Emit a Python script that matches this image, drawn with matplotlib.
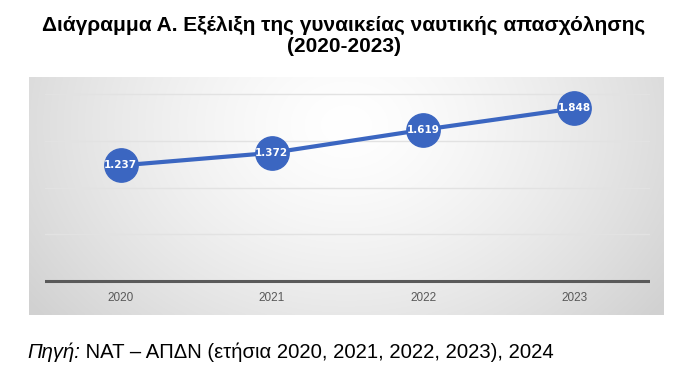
import numpy as np
import matplotlib
matplotlib.use("Agg")
import matplotlib.pyplot as plt

years = ["2020", "2021", "2022", "2023"]
values = [1237, 1372, 1619, 1848]
value_labels = ["1.237", "1.372", "1.619", "1.848"]
title_line1 = "Διάγραμμα Α. Εξέλιξη της γυναικείας ναυτικής απασχόλησης"
title_line2 = "(2020-2023)"
source_italic = "Πηγή:"
source_rest = " ΝΑΤ – ΑΠΔΝ (ετήσια 2020, 2021, 2022, 2023), 2024"

W, H = 688, 367
fig = plt.figure(figsize=(W / 100, H / 100), dpi=100)
fig.patch.set_facecolor("white")

def fx(px):
    return px / W
def fy(py):
    return 1 - py / H

# panel background with radial gradient
px0, px1, py0, py1 = 29, 664, 77, 315
bg = fig.add_axes([fx(px0), fy(py1), fx(px1 - px0), (py1 - py0) / H])
bg.set_axis_off()
gx = np.linspace(0, 1, 300)
gy = np.linspace(0, 1, 120)
X, Y = np.meshgrid(gx, gy)
d = np.sqrt(((X - 0.5) / 0.62) ** 2 + ((Y - 0.2) / 1.3) ** 2)
d = np.clip(d, 0, 1)
lev = 1.0 - 0.18 * d ** 1.4
img = np.dstack([lev, lev, lev])
bg.imshow(img, aspect="auto", extent=[0, 1, 1, 0], interpolation="bilinear")
bg.set_xlim(0, 1)
bg.set_ylim(1, 0)

# plot area
ax_left, ax_right = 45, 650
unit = 93.4 / 1000.0  # px per value unit
axis_y = 281
ymin = -(py1 - axis_y) / unit
ymax = (axis_y - py0) / unit
ax = fig.add_axes([fx(ax_left), fy(py1), fx(ax_right - ax_left), (py1 - py0) / H])
ax.patch.set_alpha(0)
x = np.arange(len(years))
ax.set_xlim(-0.5, len(years) - 0.5)
ax.set_ylim(ymin, ymax)
for s in ax.spines.values():
    s.set_visible(False)
for g in [500, 1000, 1500, 2000]:
    ax.axhline(g, color="#e2e2e2", lw=1, zorder=1)
ax.axhline(0, color="#5a5a5a", lw=2.2, zorder=2)
ax.plot(x, values, color="#3b66c1", lw=3, zorder=3,
        marker="o", markersize=24, markerfacecolor="#3b66c1", markeredgecolor="#3b66c1")
for xi, v, lab in zip(x, values, value_labels):
    ax.text(xi, v, lab, color="white", fontsize=7.5, fontweight="bold",
            ha="center", va="center", zorder=4, family="DejaVu Sans")
ax.set_xticks([])
ax.set_yticks([])
label_y = (axis_y - 298) / unit
for xi, yr in zip(x, years):
    ax.text(xi, label_y, yr, color="#595959", fontsize=8.5, ha="center", va="center",
            family="Liberation Sans")

# title
fig.text(0.5, fy(25), title_line1, ha="center", va="center", fontsize=15,
         fontweight="bold", family="Liberation Sans")
fig.text(0.5, fy(47), title_line2, ha="center", va="center", fontsize=15,
         fontweight="bold", family="Liberation Sans")

# source
srcfam = "Liberation Sans"
t1 = fig.text(fx(27), fy(352), source_italic, ha="left", va="center", fontsize=14.6,
              style="italic", family=srcfam)
fig.canvas.draw()
bb = t1.get_window_extent()
fig.text(bb.x1 / W, fy(352), source_rest, ha="left", va="center", fontsize=14.6,
         family=srcfam)

fig.savefig("out.png", dpi=100)
